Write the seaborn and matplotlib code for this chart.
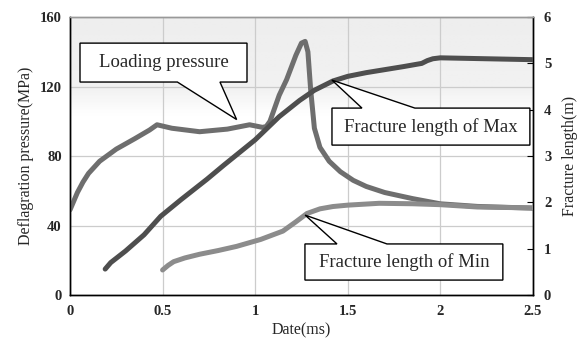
import numpy as np
import pandas as pd
import matplotlib
matplotlib.use("Agg")
import matplotlib.pyplot as plt
from matplotlib.patches import Polygon
import seaborn as sns

# ========================= Data =========================
pressure_t = [0, 0.02, 0.04, 0.07, 0.10, 0.16, 0.25, 0.35, 0.43, 0.47, 0.55, 0.70, 0.85, 0.97,
              1.04, 1.06, 1.08, 1.13, 1.17, 1.22, 1.25, 1.27, 1.285, 1.30, 1.32, 1.35, 1.40,
              1.46, 1.53, 1.60, 1.70, 1.85, 2.00, 2.20, 2.50]
pressure_mpa = [49, 54, 59, 65, 70, 77, 84, 90, 95, 98, 96, 94, 95.5, 98,
                96.5, 97, 100, 115, 124, 138, 145, 146, 140, 118, 96, 85, 77,
                71, 66, 62.5, 59, 55.5, 52.5, 51, 50]

max_t = [0.19, 0.22, 0.30, 0.40, 0.49, 0.60, 0.74, 0.83, 1.00, 1.13, 1.24, 1.32, 1.42,
         1.50, 1.60, 1.80, 1.90, 1.93, 1.96, 2.00, 2.50]
max_len = [0.56, 0.70, 0.95, 1.30, 1.70, 2.06, 2.50, 2.80, 3.35, 3.85, 4.20, 4.42, 4.62,
           4.72, 4.80, 4.93, 5.00, 5.06, 5.10, 5.12, 5.08]

min_t = [0.50, 0.53, 0.56, 0.62, 0.70, 0.80, 0.90, 1.03, 1.15, 1.22, 1.28, 1.35, 1.42, 1.50,
         1.67, 1.85, 2.00, 2.20, 2.50]
min_len = [0.54, 0.64, 0.72, 0.80, 0.88, 0.96, 1.05, 1.20, 1.38, 1.58, 1.76, 1.86, 1.91, 1.94,
           1.98, 1.97, 1.95, 1.90, 1.88]

x_ticks = [0, 0.5, 1, 1.5, 2, 2.5]
x_labels = ["0", "0.5", "1", "1.5", "2", "2.5"]
p_ticks = [0, 40, 80, 120, 160]
len_ticks = [0, 1, 2, 3, 4, 5, 6]

# ========================= Figure =========================
sns.set_theme(style="white")
plt.rcParams["font.family"] = ["Liberation Serif", "DejaVu Serif"]

fig = plt.figure(figsize=(5.8, 3.44), dpi=100)
ax = fig.add_axes([0.1207, 0.1424, 0.798, 0.808])
ax2 = ax.twinx()

# light gray band at the top that fades to white just below the 120 line (row 0 = top)
grad = np.concatenate([np.linspace(0.93, 0.945, 25), np.linspace(0.945, 1.0, 11),
                       np.ones(64)]).reshape(-1, 1)
ax.imshow(grad, cmap="gray", vmin=0, vmax=1, aspect="auto", extent=[0, 1, 0, 1],
          transform=ax.transAxes, zorder=0, interpolation="bilinear")

df_p = pd.DataFrame({"t": pressure_t, "p": pressure_mpa})
df_max = pd.DataFrame({"t": max_t, "l": max_len})
df_min = pd.DataFrame({"t": min_t, "l": min_len})

line_kw = dict(lw=3.6, zorder=3, solid_capstyle="round", solid_joinstyle="round")
sns.lineplot(data=df_p, x="t", y="p", ax=ax, color="#6e6e6e", **line_kw)
sns.lineplot(data=df_max, x="t", y="l", ax=ax2, color="#4e4e4e", **line_kw)
sns.lineplot(data=df_min, x="t", y="l", ax=ax2, color="#8c8c8c", **line_kw)

ax.set_xlim(0, 2.5)
ax.set_ylim(0, 160)
ax2.set_ylim(0, 6)
ax.set_xticks(x_ticks)
ax.set_xticklabels(x_labels)
ax.set_yticks(p_ticks)
ax2.set_yticks(len_ticks)

ax.set_axisbelow(True)
ax.grid(True, color="#cccccc", lw=0.9)
ax2.grid(False)

for a in (ax, ax2):
    a.tick_params(direction="in", length=3, width=0.8, color="black", labelsize=10.5)
    for lab in a.get_xticklabels() + a.get_yticklabels():
        lab.set_fontweight("bold")
    for s in a.spines.values():
        s.set_color("black")
        s.set_linewidth(1.0)
    a.spines["top"].set_color("#999999")
ax.tick_params(axis="y", length=0, pad=6)
ax.tick_params(axis="x", pad=7)
ax2.tick_params(axis="y", length=4, pad=8)

ax.set_xlabel("Date(ms)", fontsize=11.5, labelpad=3)
ax.set_ylabel("Deflagration pressure(MPa)", fontsize=11.5, labelpad=4)
ax2.set_ylabel("Fracture length(m)", fontsize=11.5, labelpad=8)


# ========================= Callout boxes =========================
def callout(x0, x1, y0, y1, base, tip, on_top, text):
    if on_top:
        pts = [(x0, y0), (x0, y1), (base[0], y1), tip, (base[1], y1), (x1, y1), (x1, y0)]
    else:
        pts = [(x0, y1), (x1, y1), (x1, y0), (base[1], y0), tip, (base[0], y0), (x0, y0)]
    poly = Polygon(pts, closed=True, facecolor="white", edgecolor="black", lw=1.0,
                   transform=ax.transData, zorder=10, clip_on=False)
    ax2.add_patch(poly)
    ax2.text((x0 + x1) / 2, (y0 + y1) / 2, text, transform=ax.transData, ha="center",
             va="center", fontsize=13.5, zorder=11)


callout(0.054, 0.956, 122.6, 145, (0.58, 0.81), (0.90, 101), False, "Loading pressure")
callout(1.415, 2.484, 86.3, 107.6, (1.577, 1.863), (1.415, 123.7), True, "Fracture length of Max")
callout(1.269, 2.338, 8.6, 29.4, (1.442, 1.712), (1.27, 46), True, "Fracture length of Min")

fig.savefig("out.png", dpi=100)
